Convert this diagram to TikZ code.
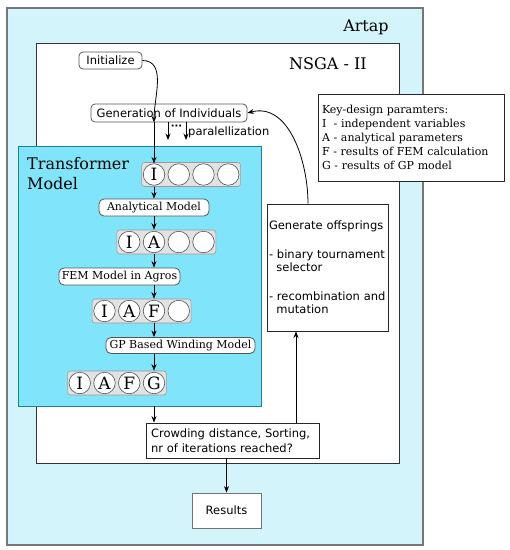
\documentclass[tikz,border=0pt]{standalone}
\usepackage{fontspec}
\setmainfont{DejaVu Serif}
\setsansfont{DejaVu Sans}
\usetikzlibrary{arrows.meta}
\definecolor{artapfill}{HTML}{D4F4FC}
\definecolor{artapline}{HTML}{777777}
\definecolor{tmfill}{HTML}{80E5FA}
\definecolor{tmline}{HTML}{1F7F95}
\definecolor{arrfill}{HTML}{E2E2E2}
\definecolor{arrline}{HTML}{9A9A9A}
\definecolor{rline}{HTML}{555555}
\begin{document}
\begin{tikzpicture}[x=1pt,y=-1pt,
  arr/.style={-{Stealth[length=6.5pt,width=5pt]},line width=0.8pt},
  artapbox/.style={draw=artapline,fill=artapfill,line width=1.6pt,inner sep=0},
  nsgabox/.style={draw=black!80,fill=white,line width=0.8pt,inner sep=0},
  tmbox/.style={draw=tmline,fill=tmfill,line width=0.8pt,inner sep=0},
  plainbox/.style={draw=black!85,fill=white,line width=0.8pt,font=\sffamily\fontsize{11.5}{13.5}\selectfont},
  rsans/.style={draw=rline,fill=white,rounded corners=4pt,line width=0.8pt,inner sep=0,font=\sffamily\fontsize{11.5}{12}\selectfont},
  rserif/.style={draw=rline,fill=white,rounded corners=5pt,line width=0.8pt,inner sep=0,font=\fontsize{11}{12}\selectfont},
  arraybg/.style={draw=arrline,fill=arrfill,rounded corners=3pt,line width=0.6pt,minimum width=99pt,minimum height=24pt,inner sep=0},
  cell/.style={circle,draw=rline,fill=white,line width=0.6pt,minimum size=21.5pt,inner sep=0,font=\fontsize{17}{17}\selectfont},
  titletext/.style={font=\fontsize{16}{18}\selectfont},
]
\useasboundingbox (0,0) rectangle (510,550);

% containers
\node[artapbox,minimum width=416pt,minimum height=537pt] (artap) at (215,276.5) {};
\node[titletext,anchor=base] (artaplbl) at (366,31) {Artap};
\node[nsgabox,minimum width=363pt,minimum height=420pt] (nsga) at (217.5,253) {};
\node[titletext,anchor=base] (nsgalbl) at (328,69) {NSGA - II};

% key design box
\node[draw=black!85,fill=white,line width=0.8pt,minimum width=186pt,minimum height=87pt,
      text width=178pt,inner xsep=4pt,align=left,font=\fontsize{11}{14}\selectfont] (key) at (411,137.5)
  {Key-design paramters:\\
   I\ \ - independent variables\\
   A - analytical parameters\\
   F - results of FEM calculation\\
   G - results of GP model};

% transformer model box
\node[tmbox,minimum width=243pt,minimum height=260pt] (tm) at (139.5,276) {};
\node[anchor=north west,align=left,inner sep=0,font=\fontsize{16}{20}\selectfont] (tmlbl) at (27,157) {Transformer\\Model};

% top nodes
\node[rsans,minimum width=63pt,minimum height=17pt] (init) at (110.5,60.5) {Initialize};
\node[rsans,minimum width=156pt,minimum height=18pt] (gen) at (169,113) {Generation of Individuals};

% model nodes
\node[rserif,minimum width=110pt,minimum height=17pt] (ana) at (154,207.5) {Analytical Model};
\node[rserif,minimum width=121pt,minimum height=17pt] (fem) at (119.5,276.5) {FEM Model in Agros};
\node[rserif,minimum width=149pt,minimum height=16pt] (gp) at (180.5,345.5) {GP Based Winding Model};

% arrays
\node[arraybg] (arr1) at (191.1,174.5) {};
\foreach \i/\t in {1/I,2/,3/,4/} \node[cell] (a1c\i) at ({154+24.75*(\i-1)},174.5) {\t};
\node[arraybg] (arr2) at (166.4,242) {};
\foreach \i/\t in {1/I,2/A,3/,4/} \node[cell] (a2c\i) at ({129.25+24.75*(\i-1)},242) {\t};
\node[arraybg] (arr3) at (141.6,311) {};
\foreach \i/\t in {1/I,2/A,3/F,4/} \node[cell] (a3c\i) at ({104.5+24.75*(\i-1)},311) {\t};
\node[arraybg] (arr4) at (116.9,383) {};
\foreach \i/\t in {1/I,2/A,3/F,4/G} \node[cell] (a4c\i) at ({79.75+24.75*(\i-1)},383) {\t};

% right side boxes
\node[plainbox,minimum width=121pt,minimum height=127pt,text width=117pt,inner xsep=2pt,align=left] (goff) at (327.5,267.5)
  {Generate offsprings\\[15pt]
   - binary tournament\\
   \hspace*{0.65em}selector\\[15pt]
   - recombination and\\
   \hspace*{0.65em}mutation};
\node[plainbox,minimum width=173pt,minimum height=35pt,text width=163pt,inner xsep=5pt,align=left,font=\sffamily\fontsize{11.5}{15}\selectfont] (crowd) at (232.5,440.5)
  {Crowding distance, Sorting,\\nr of iterations reached?};
\node[draw=black!55,fill=white,line width=0.8pt,minimum width=69pt,minimum height=35pt,font=\sffamily\fontsize{11.5}{12}\selectfont] (res) at (226.5,510.5) {Results};

% connectors
\draw[arr] (init.east) to[out=0,in=90] (gen.south -| a1c1 |- gen.north);
\draw[arr] (gen.south -| a1c1) -- (a1c1.north);
\coordinate (p1) at (168,140);
\coordinate (p2) at (186,140);
\draw[arr] (gen.south -| p1) -- (p1);
\draw[arr] (gen.south -| p2) -- (p2);
\node[inner sep=0,font=\sffamily\bfseries\fontsize{10}{10}\selectfont] (dots) at (176.5,127.5) {···};
\node[anchor=west,inner sep=0,font=\sffamily\fontsize{11.5}{12}\selectfont] (par) at (188,132) {paralellization};

\draw[arr] (arr1.south -| a1c1) -- (ana.north);
\draw[arr] (ana.south) -- (arr2.north -| a2c2);
\draw[arr] (arr2.south -| a2c2) -- (fem.north -| a2c2);
\draw[arr] (fem.south -| a3c3) -- (arr3.north -| a3c3);
\draw[arr] (arr3.south -| a3c3) -- (gp.north -| a3c3);
\draw[arr] (gp.south -| a3c3) -- (arr4.north -| a3c3);
\draw[arr] (tm.south -| a3c3) -- (crowd.north -| a3c3);

\coordinate (upx) at (296,0);
\draw[arr] (crowd.north -| upx) -- (goff.south -| upx);
\coordinate (backx) at (308,0);
\draw[arr] (goff.north -| backx) to[out=90,in=15] (gen.east);
\draw[arr] (crowd.south -| res) -- (res.north);
\end{tikzpicture}
\end{document}
